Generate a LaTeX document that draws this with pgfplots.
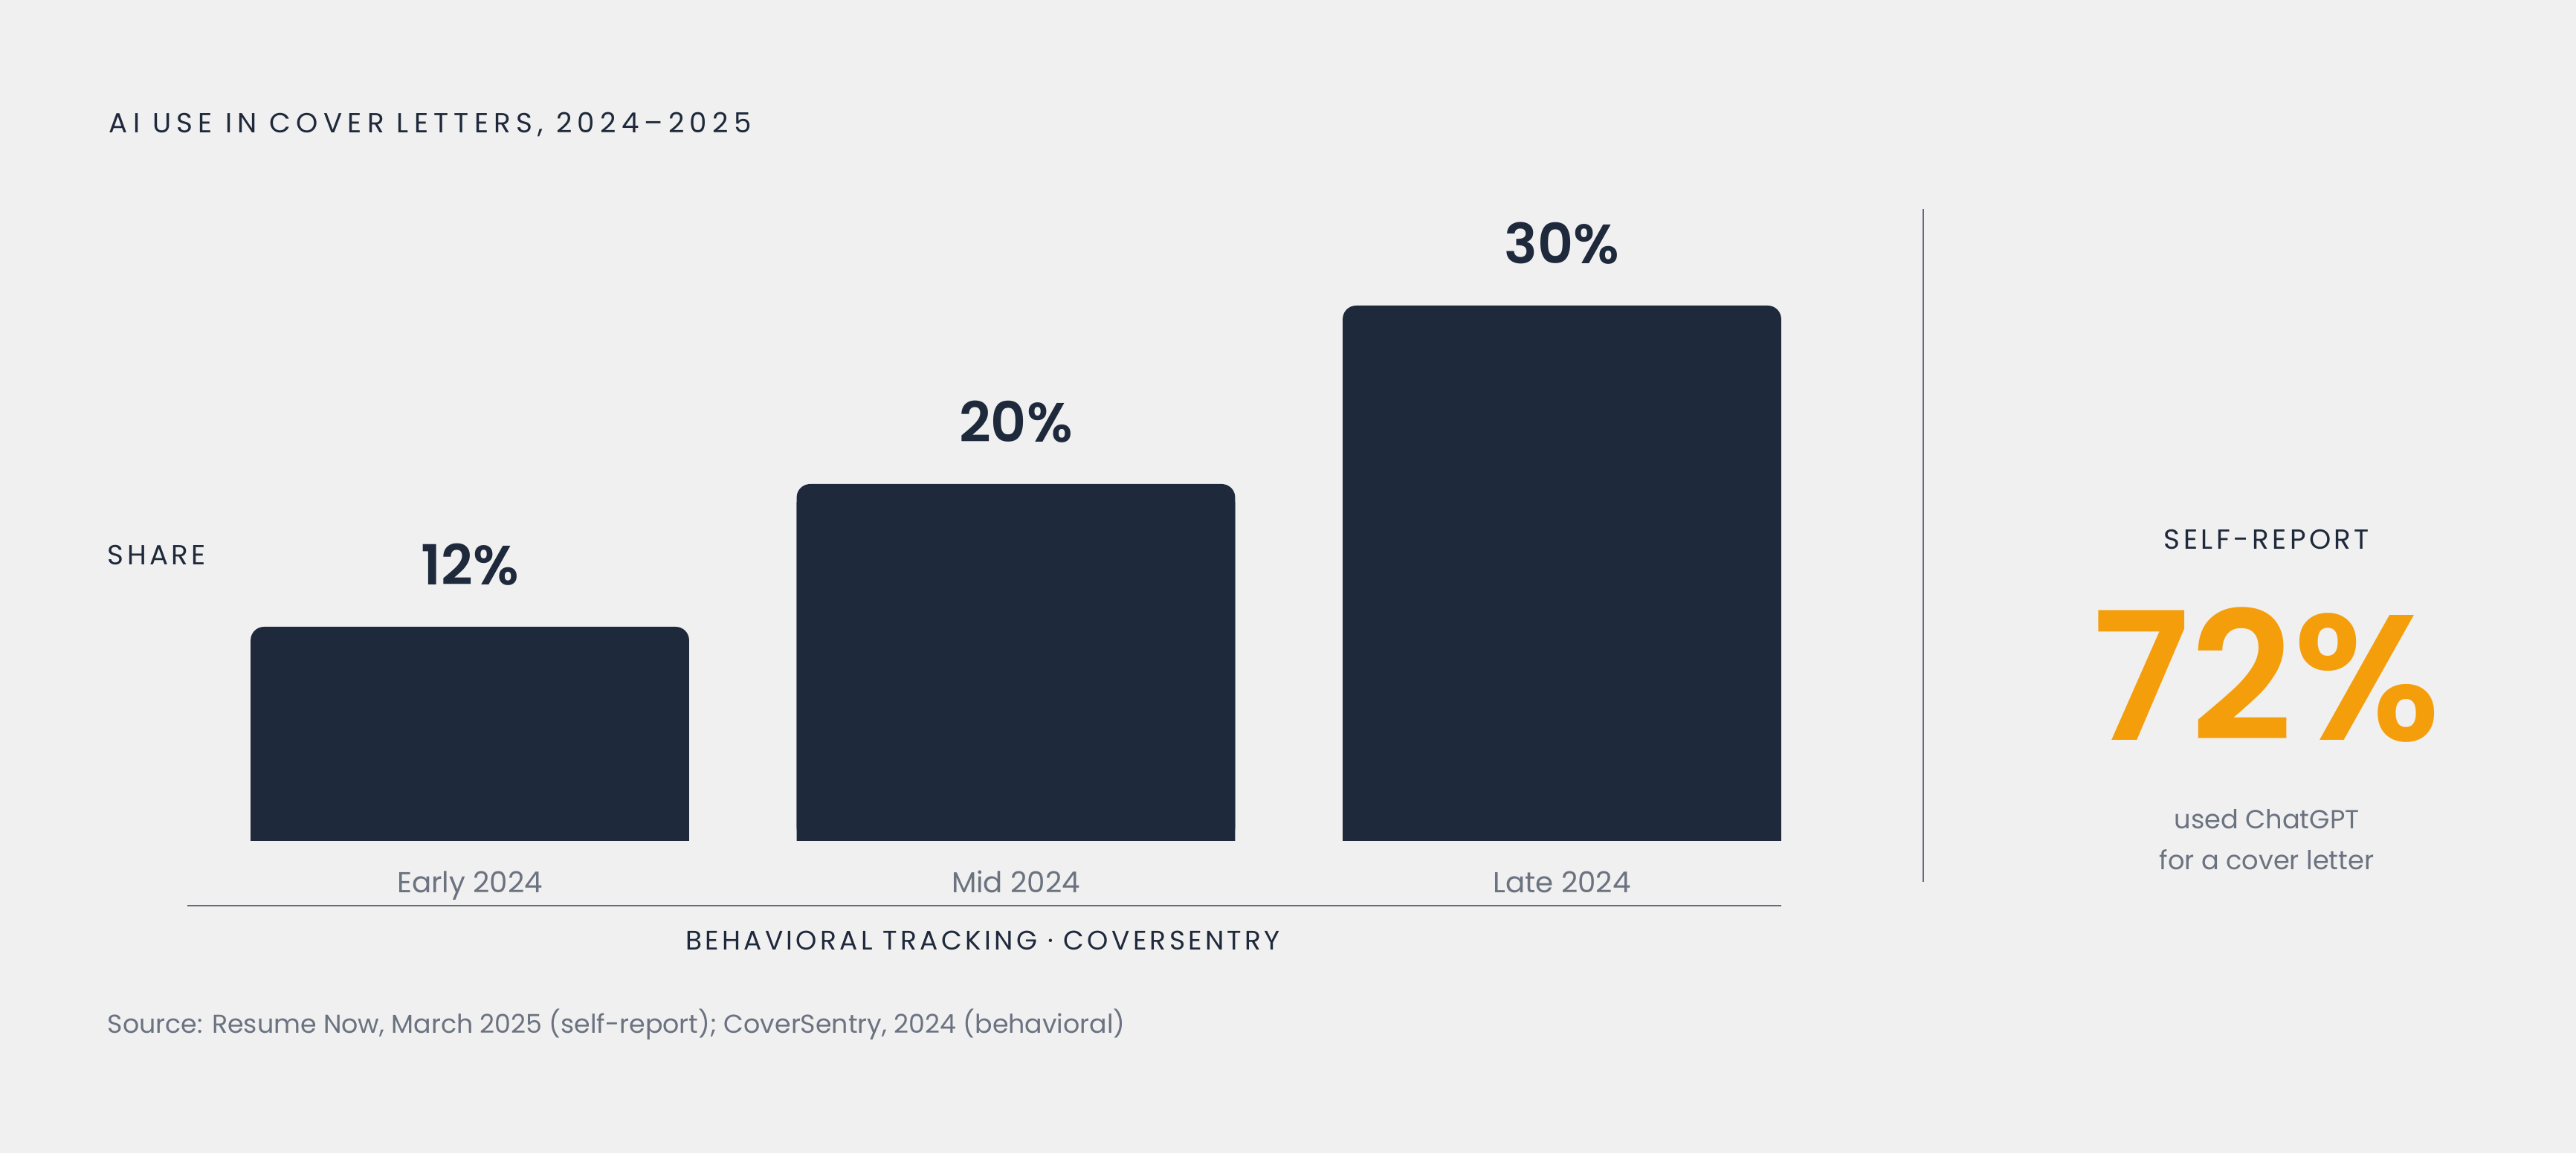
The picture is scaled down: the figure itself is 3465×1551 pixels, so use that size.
\documentclass[border=0pt]{standalone}
\usepackage{fontspec}
\setmainfont{Poppins}
\newfontfamily\spaced[LetterSpace=12]{Poppins}
\newfontfamily\wide[LetterSpace=19.5]{Poppins}
\newfontfamily\psemi{Poppins SemiBold}
\usepackage{pgfplots}
\pgfplotsset{compat=1.18}

\definecolor{bg}{HTML}{F0F0F0}
\definecolor{navy}{HTML}{1E293B}
\definecolor{grayc}{HTML}{6B7280}
\definecolor{rule}{HTML}{666B78}
\definecolor{amber}{HTML}{F59E0B}

\begin{document}
\begin{tikzpicture}[x=0.25pt,y=0.25pt]
% canvas, one unit = one pixel of the reference
\fill[bg] (0,0) rectangle (3465,1551);

\node[anchor=base west, inner sep=0pt, text=navy, font=\wide\fontsize{9.3}{11}\selectfont] at (146,1372) {AI USE IN COVER LETTERS, 2024–2025};
\node[anchor=base west, inner sep=0pt, text=navy, font=\spaced\fontsize{9.3}{11}\selectfont] at (144,791) {SHARE};

\begin{axis}[
    at={(63pt,105pt)}, anchor=south west,
    scale only axis, width=536pt, height=180pt,
    xmin=-0.5174, xmax=2.4017, ymin=0, ymax=30,
    clip=false,
    axis line style={draw=none},
    major tick style={draw=none},
    ytick=\empty,
    xtick={0,1,2},
    xticklabels={Early 2024,Mid 2024,Late 2024},
    xticklabel style={anchor=base, yshift=-13.1pt, inner sep=0pt,
        font=\fontsize{9.7}{11}\selectfont, text=grayc},
    /pgf/number format/assume math mode=true,
    ybar, bar width=0.803,
]
    \addplot[fill=navy, draw=none, bar shift=0pt, rounded corners=4.5pt,
        nodes near coords={\pgfmathprintnumber{\pgfplotspointmeta}\%},
        nodes near coords style={anchor=base, yshift=14pt, inner sep=0pt,
            font=\psemi\fontsize{18.6}{20}\selectfont, text=navy}]
        coordinates {(0,12) (1,20) (2,30)};
    % square off the bottom corners
    \addplot[fill=navy, draw=none, bar shift=0pt]
        coordinates {(0,11) (1,19) (2,29)};
\end{axis}

\draw[rule, line width=0.7pt] (252,333) -- (2396,333);
\node[anchor=base, inner sep=0pt, text=navy, font=\spaced\fontsize{9}{11}\selectfont] at (1322,273) {BEHAVIORAL TRACKING · COVERSENTRY};
\node[anchor=base west, inner sep=0pt, text=grayc, font=\fontsize{8.7}{11}\selectfont] at (144,161) {Source: Resume Now, March 2025 (self-report); CoverSentry, 2024 (behavioral)};

% self-report panel
\draw[rule, line width=0.6pt] (2587,1270) -- (2587,365);
\node[anchor=base, inner sep=0pt, text=navy, font=\spaced\fontsize{9.3}{11}\selectfont] at (3049,812) {SELF-REPORT};
\node[anchor=base, inner sep=0pt, text=amber, font=\psemi\fontsize{60}{60}\selectfont] at (3049,555) {72\%};
\node[anchor=base, inner sep=0pt, text=grayc, font=\fontsize{8.8}{11}\selectfont] at (3049,436) {used ChatGPT};
\node[anchor=base, inner sep=0pt, text=grayc, font=\fontsize{8.8}{11}\selectfont] at (3049,381) {for a cover letter};
\end{tikzpicture}
\end{document}
